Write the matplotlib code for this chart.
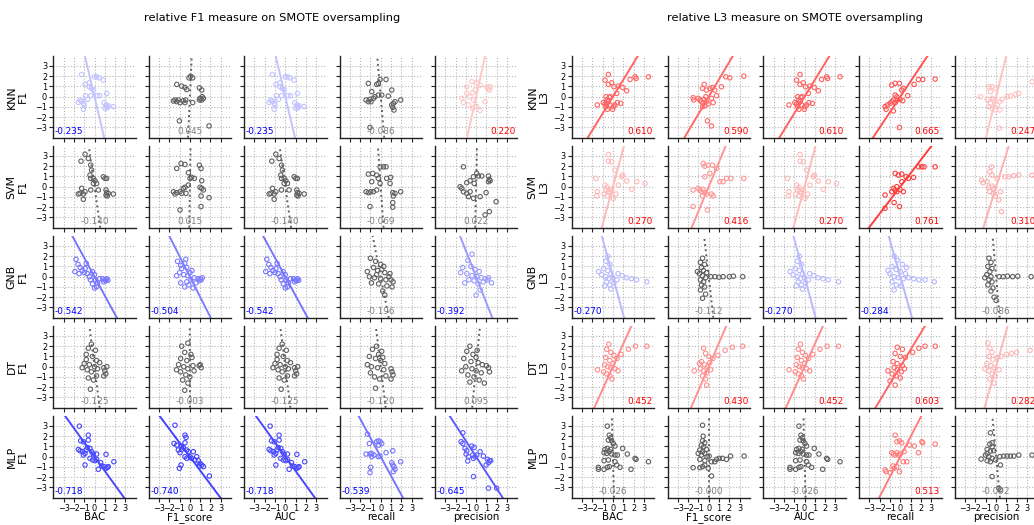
import numpy as np
import matplotlib.pyplot as plt
from matplotlib.colors import to_rgb

W, H = 1034, 525

metrics = ["BAC", "F1_score", "AUC", "recall", "precision"]
classifiers = ["KNN", "SVM", "GNB", "DT", "MLP"]

# correlation shown in every panel (rows = classifiers, cols = metrics)
f1_corr = [[-0.235, 0.045, -0.235, -0.086, 0.220],
           [-0.140, 0.015, -0.140, -0.069, 0.022],
           [-0.542, -0.504, -0.542, -0.196, -0.392],
           [-0.125, -0.003, -0.125, -0.120, 0.095],
           [-0.718, -0.740, -0.718, -0.539, -0.645]]
l3_corr = [[0.610, 0.590, 0.610, 0.665, 0.247],
           [0.270, 0.416, 0.270, 0.761, 0.310],
           [-0.270, -0.112, -0.270, -0.284, -0.086],
           [0.452, 0.430, 0.452, 0.603, 0.282],
           [-0.026, -0.000, -0.026, 0.513, -0.092]]

# ---- F1 panels (x, y) ----
f1_knn_bac = [(-1.25, 2.17), (-0.92, 1.2), (-0.5, 1.36), (0, 1.94), (0.2, 1.94), (0.44, 1.84), (0.86, 1.62),
              (-0.5, 0.97), (-0.28, 0.8), (-0.1, 0.65), (-0.86, 0.1), (-0.37, 0.1), (0.28, 0.1), (0.53, 0.1),
              (1.18, 0.32), (-1.4, -0.32), (-1.57, -0.55), (-1.25, -0.42), (-1.08, -0.65), (-1.0, -0.8),
              (-1.08, -1.23), (0.92, -0.58), (1.12, -0.8), (1.18, -0.97), (1.34, -0.9), (1.24, -1.07),
              (1.83, -0.97), (1.02, -1.13), (-0.66, -0.26)]
f1_knn_f1 = [(-1.28, 1.2), (-0.8, 1.03), (-0.48, 0.9), (-0.31, 0.7), (-0.09, 1.84), (0.07, 2.0), (0.27, 1.84),
             (-1.45, -0.32), (-1.6, -0.42), (-1.28, -0.48), (-1.12, -0.32), (-0.96, -0.58), (-0.64, -0.39),
             (-0.48, -0.58), (-0.41, -0.32), (0.27, -0.58), (0.92, 0.87), (1.15, 0.65), (0.98, -0.16),
             (1.15, -0.32), (1.31, -0.16), (1.2, 0), (0.92, -0.32), (-1.02, -2.36), (1.86, -2.85)]
f1_knn_rec = [(-1.2, 1.3), (-0.39, 1.2), (-0.23, 1.3), (-0.06, 1.68), (0.52, 1.68), (-0.87, 0.49), (-0.23, 0.16),
              (0.1, 0.16), (0.74, 0.06), (1.07, 0.65), (-1.42, -0.32), (-1.2, -0.49), (-1.04, -0.26),
              (-0.94, -0.49), (-0.71, -0.16), (-0.55, 0), (1.23, -0.65), (1.39, -0.49), (1.17, -1.04),
              (1.29, -1.3), (1.94, -0.32), (-1.04, -3.0), (1.07, -0.81)]
f1_knn_prec = [(-0.91, 0.97), (-0.42, 1.46), (0.06, 1.36), (0.39, 1.13), (-0.1, 0.65), (-0.32, 0.39),
               (-0.91, 0.32), (-1.39, -0.16), (-1.23, -0.58), (-0.74, -0.81), (-0.32, -1.13), (0.06, -0.97),
               (0.39, -1.36), (0.87, -0.49), (1.04, 0.97), (1.2, 0.81), (1.36, 0.97), (1.29, 0.65),
               (-0.26, -0.32), (-0.58, 0)]

f1_svm_bac = [(-1.31, 2.49), (-0.92, 3.17), (-0.6, 2.75), (-0.37, 2.1), (-0.28, 1.62), (-0.44, 1.13),
              (-0.37, 0.81), (-0.11, 0.81), (0.05, 0.58), (0.21, 0.32), (-0.11, 0.32), (-1.25, -0.16),
              (-1.4, -0.65), (-1.57, -0.71), (-1.08, -0.71), (-0.92, -0.49), (-1.08, -1.23), (-0.37, -0.32),
              (0.37, -0.32), (0.86, 0.97), (1.02, 0.81), (1.18, 0.81), (1.12, -0.32), (1.18, -0.58),
              (1.12, -0.81), (1.34, -0.65), (1.83, -0.71), (1.24, -0.9)]
f1_svm_f1 = [(-1.28, 1.78), (-0.86, 2.27), (-0.48, 2.17), (-0.15, 1.36), (0.01, 0.81), (0.17, 0.91),
             (0.43, 0.81), (-1.6, -0.49), (-1.45, -0.71), (-1.28, -0.58), (-0.96, -0.49), (-0.8, -0.65),
             (-0.64, -0.16), (-0.48, -0.06), (-0.38, -0.65), (-0.15, 0.16), (0.92, 2.1), (1.08, 1.78),
             (1.15, 0.58), (0.98, -0.06), (1.15, -0.16), (1.31, -0.32), (1.08, -0.9), (1.86, -1.07),
             (1.08, -1.94), (-0.96, -2.27)]
f1_svm_rec = [(-1.2, 1.23), (-0.78, 1.3), (-0.06, 1.94), (0.26, 1.94), (0.52, 1.94), (-0.39, 1.13),
              (-0.23, 0.81), (-0.87, 0.49), (-0.06, 0.32), (0.58, 0.81), (0.97, 0.91), (0.91, 0.32),
              (-1.42, -0.49), (-1.2, -0.58), (-0.97, -0.49), (-0.71, -0.49), (-0.39, -0.32), (1.17, -0.58),
              (1.39, -0.65), (1.23, -0.9), (1.94, -0.49), (-1.04, -1.94), (1.17, -1.55), (1.17, -2.0)]
f1_svm_prec = [(-1.23, 1.94), (-0.26, 0.97), (0.06, 1.3), (0.23, 1.04), (0.55, 1.04), (1.2, 1.04),
               (1.29, 0.71), (1.2, 0.49), (1.36, 0.58), (-0.91, 0.39), (-0.58, 0.58), (-0.19, 0.32),
               (-1.55, 0), (-1.39, -0.16), (-1.23, -0.49), (-0.91, -0.65), (-0.74, -0.97), (-0.58, -0.49),
               (-0.26, -1.13), (0.39, -0.97), (0.97, -0.58), (1.94, -1.46), (1.29, -2.43), (0.87, -2.75)]

f1_gnb_bac = [(-1.8, 1.7), (-1.6, 1.2), (-1.4, 0.9), (-1.2, 0.6), (-1.0, 0.4), (-0.9, 0.8), (-0.7, 0.3),
              (-0.5, 0.0), (-0.4, -0.3), (-0.2, 0.5), (0.0, 0.2), (0.1, -0.3), (0.3, -0.6), (0.5, -0.2),
              (0.8, -0.2), (1.0, -0.3), (1.1, -0.4), (1.2, -0.2), (1.3, -0.35), (0.9, -0.5), (-1.9, 0.5),
              (-0.8, 1.3), (0.2, -1.0), (-1.5, 0.3), (-0.2, -0.7), (0.0, -1.1)]
f1_gnb_f1 = [(-1.2, 1.5), (-0.9, 1.1), (-0.5, 1.3), (-0.8, 0.8), (-0.3, 0.9), (-1.0, 0.4), (-0.6, 0.2),
             (-0.2, 0.1), (0.0, 0.4), (0.1, -0.3), (-0.3, -0.5), (-0.9, -0.6), (0.4, -0.1), (0.8, -0.2),
             (1.0, -0.2), (1.1, -0.3), (1.2, -0.1), (0.9, -0.4), (-0.5, -1.0), (0.3, -1.1), (-1.3, 0.1),
             (-0.4, 1.7), (0.2, 0.6), (-0.1, -0.8), (0.6, -0.6)]
f1_gnb_rec = [(-1.0, 1.8), (-0.5, 1.5), (0.0, 1.2), (0.3, 1.0), (-0.7, 0.9), (-1.3, 0.5), (-0.3, 0.6),
              (0.4, 0.4), (0.9, 0.3), (-1.1, 0.0), (-0.6, -0.1), (0.0, -0.2), (0.5, -0.3), (1.0, -0.3),
              (1.2, -0.5), (-0.9, -0.6), (-0.2, -0.7), (0.6, -0.9), (1.1, -1.0), (0.2, -1.4), (0.4, -1.8),
              (-0.4, 0.2), (0.8, 0.0), (0.1, 0.7)]
f1_gnb_prec = [(-0.4, 2.2), (-0.8, 1.6), (-1.3, 0.9), (-0.5, 1.0), (-0.1, 0.7), (0.3, 0.5), (-0.9, 0.3),
               (-0.4, 0.1), (0.1, 0.0), (0.5, -0.1), (0.9, -0.2), (1.2, -0.1), (1.1, -0.3), (-0.2, -0.4),
               (0.2, -0.7), (-0.7, -0.3), (0.7, -0.5), (-1.1, -0.6), (0.4, -1.3), (0.0, -1.8), (1.5, -0.6),
               (-1.5, 0.4)]

f1_dt_bac = [(-0.6, 1.8), (-0.3, 2.2), (0.1, 1.6), (-0.8, 1.2), (-0.2, 1.0), (0.2, 0.6), (-1.0, 0.3),
             (-0.5, 0.2), (0.0, 0.0), (-1.2, -0.1), (-0.7, -0.3), (-0.3, -0.5), (0.3, -0.2), (0.9, -0.1),
             (1.0, -0.4), (1.1, -0.7), (0.9, -0.9), (-0.6, -1.1), (-0.1, -1.3), (0.2, -0.9), (-0.4, -2.2),
             (-0.8, 0.7), (0.5, 0.4), (1.2, 0.0)]
f1_dt_f1 = [(-0.8, 2.0), (-0.2, 2.3), (-0.5, 1.4), (0.1, 1.2), (-0.9, 0.8), (-0.3, 0.6), (-1.1, 0.2),
            (-0.6, 0.0), (-0.2, -0.2), (0.3, 0.1), (0.9, 0.1), (1.1, -0.1), (1.0, 0.2), (-0.9, -0.5),
            (-0.4, -0.8), (0.0, -1.0), (-0.7, -1.3), (-0.2, -1.6), (-0.5, -2.3), (0.4, -0.4), (-1.3, -0.3),
            (0.2, 0.9)]
f1_dt_rec = [(-0.8, 1.7), (-0.4, 2.0), (0.1, 1.5), (-1.1, 1.0), (-0.5, 0.8), (0.0, 0.6), (0.4, 0.3),
             (-1.3, 0.2), (-0.9, 0.0), (-0.3, -0.1), (0.3, -0.3), (1.0, -0.2), (1.1, -0.5), (1.2, -0.8),
             (-1.0, -0.6), (-0.6, -1.0), (-0.1, -1.2), (0.5, -0.9), (1.0, -1.2), (-0.5, -2.1), (0.2, 0.9),
             (-0.2, 1.2)]
f1_dt_prec = [(-0.6, 2.0), (-0.9, 1.5), (-0.3, 1.2), (0.1, 1.6), (-1.2, 0.8), (-0.5, 0.5), (0.2, 0.4),
              (0.6, 0.2), (1.0, 0.1), (1.2, -0.1), (-1.0, 0.0), (-0.4, -0.2), (0.0, -0.4), (0.5, -0.6),
              (-0.8, -0.8), (-0.2, -1.0), (0.3, -1.3), (-0.6, -1.5), (1.3, -0.5), (-1.4, -0.4), (0.8, -1.6),
              (0.0, 0.9)]

f1_mlp_bac = [(-1.47, 2.98), (-1.34, 1.55), (-1.08, 1.45), (-0.6, 2.1), (-0.6, 1.62), (-1.57, 0.71),
              (-1.4, 0.58), (-1.15, 0.49), (-0.92, 0.32), (-1.08, 0.16), (-0.82, 0.65), (-0.69, 0.9),
              (-0.44, 0.81), (-0.28, 0.49), (-0.11, 0.26), (0.21, 0.26), (-0.44, -0.16), (-0.18, -0.32),
              (0.05, -0.39), (0.21, -0.26), (-0.92, -0.81), (0.37, -1.23), (0.7, -0.9), (1.12, 0.23),
              (0.92, -0.97), (1.12, -1.13), (1.24, -1.04), (1.34, -0.97), (1.88, -0.49), (0.6, -0.58)]
f1_mlp_f1 = [(-1.45, 3.07), (-1.54, 1.29), (-1.28, 1.13), (-0.8, 1.04), (-0.48, 2.1), (-0.38, 1.88),
             (-0.48, 1.36), (-1.12, 0.65), (-0.96, 0.39), (-0.8, 0.71), (-0.64, 0.9), (-0.31, 0.65),
             (-0.15, 0.49), (-0.48, 0), (-0.31, -0.16), (0.01, 0), (0.17, -0.16), (0.33, 0.49), (0.66, 0),
             (0.82, -0.39), (0.98, -0.65), (1.15, -0.81), (1.31, -0.97), (0.92, -0.9), (1.89, -1.88),
             (-0.86, -0.81), (-1.02, -1.13), (0.49, -0.32)]
f1_mlp_rec = [(-1.29, 2.2), (-1.1, 1.29), (-0.39, 1.46), (-0.23, 1.55), (-0.06, 1.46), (0.1, 1.29),
              (-0.19, 1.13), (0.52, 0.39), (1.17, 0.58), (-1.42, 0.26), (-1.04, 0.26), (-0.87, 0),
              (-0.65, 0.16), (-0.87, 0.32), (-0.23, 0), (-0.06, 0.06), (-0.97, -1.04), (-1.04, -1.55),
              (1.07, -0.58), (1.17, -0.81), (1.29, -0.97), (1.39, -1.23), (1.23, -1.46), (1.94, -0.49)]
f1_mlp_prec = [(-1.29, 2.33), (-1.46, 1.46), (-1.29, 1.29), (-1.07, 0.81), (-0.91, 0.58), (-0.42, 1.04),
               (-0.19, 0.9), (0.39, 0.49), (-0.97, 0.26), (-0.74, 0), (-0.32, 0.16), (-0.1, 0), (0.06, 0.16),
               (-0.26, -0.16), (-0.81, -0.42), (0.71, 0.06), (1.1, -0.26), (1.29, -0.39), (1.2, -0.58),
               (1.42, -0.39), (0.97, -0.81), (-0.26, -1.94), (1.2, -3.07), (2.0, -3.07)]

# ---- L3 panels (x, y) ----
l3_knn_bac = [(-0.44, 2.17), (-0.77, 1.62), (-0.44, 1.2), (-0.12, 1.36), (0.1, 0.97), (0.53, 1.04),
              (0.95, 0.9), (1.34, 0.58), (1.66, 1.68), (2.15, 1.94), (2.25, 1.78), (3.45, 1.94), (0.37, 0.32),
              (-0.67, 0), (-0.35, -0.06), (-0.22, 0), (-0.93, -0.58), (-0.77, -0.71), (-0.6, -0.65),
              (-0.44, -0.49), (-0.67, -0.97), (-0.54, -1.23), (-0.28, -0.81), (0.04, -0.97), (0.2, -0.81),
              (0.43, -0.58), (0.76, -0.65), (-1.51, -0.81), (-0.02, -1.23), (-0.54, -0.32)]
l3_knn_f1 = [(-0.44, 1.2), (-0.6, 0.81), (-0.22, 0.65), (0.11, 0.81), (0.37, 0.9), (0.59, 0.65), (1.24, 0.97),
             (1.66, 1.94), (2.05, 1.84), (3.41, 2.0), (-1.51, -0.1), (-1.45, -0.32), (-1.02, -0.16),
             (-0.86, -0.32), (-0.7, -0.49), (-0.54, -0.65), (-0.44, -0.26), (-0.28, 0), (-0.22, -0.49),
             (-0.05, -0.71), (-0.6, -0.97), (-0.38, -0.9), (0.27, -0.16), (0.43, -0.58), (-0.12, -2.36),
             (0.27, -2.85), (0.76, 0.1)]
l3_knn_rec = [(-0.83, 1.13), (-0.5, 1.3), (-0.08, 1.3), (0.14, 0.65), (0.3, 0.81), (1.34, 1.2), (1.76, 1.68),
              (2.18, 1.68), (3.38, 1.72), (-0.5, 0.16), (-0.34, 0), (-0.67, -0.32), (-0.83, -0.49),
              (-0.5, -0.58), (-0.28, -0.32), (-0.02, -0.26), (-1.48, -0.97), (-1.38, -1.23), (-1.25, -0.81),
              (-0.67, -1.39), (0.24, -0.39), (0.72, 0.1), (-0.08, -3.0), (-0.99, -0.65)]
l3_knn_prec = [(-1.52, 0), (-0.71, 0.97), (-0.39, 0.97), (-0.06, 0.81), (-0.55, 0.49), (-0.39, -0.16),
               (-0.23, -0.32), (-0.55, -0.65), (-0.71, -0.97), (-0.39, -1.13), (-0.06, -1.29), (0.36, -1.29),
               (0.1, -0.81), (0.36, -0.49), (0.58, -0.26), (1.07, 0), (1.39, 0.06), (1.88, 0.23), (2.2, 0.32),
               (3.49, 1.46), (0.32, -3.07), (-0.87, -0.26)]

l3_svm_bac = [(-0.44, 3.14), (-0.44, 2.49), (-0.12, 2.43), (0.2, 1.62), (0.85, 0.97), (0.95, 1.13),
              (-1.64, 0.81), (1.34, 0.55), (2.31, 0.49), (3.12, 0.32), (1.83, -0.26), (-0.77, 0.16),
              (-0.54, -0.06), (-0.67, -0.32), (-0.44, -0.49), (-0.28, -0.65), (-0.12, -0.32), (-0.86, -0.71),
              (-0.54, -0.9), (0.04, -1.13), (0.3, -0.71), (-1.51, -0.49), (-1.57, -0.9), (0.53, 0.16)]
l3_svm_f1 = [(-0.54, 2.27), (-0.38, 2.0), (-0.05, 2.1), (0.37, 2.1), (0.76, 1.78), (0.11, 1.3), (-0.38, 0.97),
             (1.08, 0.49), (1.4, 0.49), (1.73, 0.81), (2.15, 0.81), (3.41, 0.81), (-1.51, -0.32),
             (-1.02, -0.16), (-0.86, -0.32), (-0.7, -0.49), (-0.54, -0.26), (-0.38, -0.58), (-0.22, -0.71),
             (-0.6, -0.9), (0.27, -0.71), (-1.51, -1.94), (-0.12, -2.27), (0.43, -0.9)]
l3_svm_rec = [(-0.5, 1.3), (-0.18, 1.13), (0.14, 1.23), (0.56, 0.97), (0.79, 0.81), (1.28, 0.91), (1.76, 1.94),
              (2.09, 1.94), (2.31, 1.94), (3.38, 1.94), (0.14, 0.49), (-0.34, 0), (-0.67, -0.16), (-0.5, -0.32),
              (-0.83, -0.49), (-0.34, -0.49), (-0.02, -0.26), (0.3, -0.49), (-1.48, -0.81), (-0.6, -1.55),
              (-0.08, -1.94), (-1.48, -2.1)]
l3_svm_prec = [(-0.45, 1.94), (-0.61, 1.46), (-0.39, 1.13), (-1.42, 0.65), (-1.26, 0.39), (-0.87, 0.49),
               (0.1, 0.81), (-0.39, 0.06), (-0.71, -0.06), (-0.23, -0.16), (-0.61, -0.49), (-0.29, -0.65),
               (-0.06, -0.9), (0.26, -1.29), (0.42, -0.49), (0.84, 0.97), (1.23, 0.97), (1.72, 1.07),
               (2.2, 1.13), (3.49, 1.13), (0.52, -2.43)]

l3_gnb_bac = [(-0.5, 2.0), (-0.7, 1.5), (-0.3, 1.2), (-0.9, 0.8), (-0.5, 0.6), (-0.2, 0.3), (-1.1, 0.2),
              (-0.7, 0.0), (-0.4, -0.2), (0.0, -0.1), (-0.6, -0.5), (-0.3, -0.8), (0.1, -0.6), (0.5, 0.3),
              (0.9, 0.1), (1.3, -0.1), (1.8, -0.2), (2.3, -0.3), (3.3, -0.5), (-1.4, 0.5), (-0.2, -1.2),
              (0.4, -0.3), (-0.8, -0.9)]
l3_gnb_f1 = [(-0.6, 1.8), (-0.8, 1.4), (-0.4, 1.2), (-0.7, 0.9), (-0.5, 0.6), (-0.9, 0.3), (-0.6, 0.1),
             (-0.3, -0.1), (-0.8, -0.3), (-0.5, -0.5), (-0.7, -0.8), (-0.4, -1.0), (-0.8, -1.3), (-0.3, -1.7),
             (-0.6, -2.1), (0.2, 0.0), (0.6, 0.0), (1.0, -0.05), (1.4, 0.0), (2.0, 0.0), (2.4, 0.05),
             (3.3, 0.0), (-1.1, 0.5), (-0.2, 0.4)]
l3_gnb_rec = [(-0.6, 2.0), (-0.3, 1.6), (0.2, 1.2), (-0.8, 1.0), (-0.4, 0.7), (0.0, 0.5), (0.5, 0.3),
              (-1.0, 0.3), (-0.6, 0.0), (-0.2, -0.1), (0.3, -0.2), (0.8, -0.1), (1.3, -0.2), (1.8, -0.3),
              (2.4, -0.3), (3.3, -0.5), (-0.8, -0.5), (-0.4, -0.8), (0.1, -0.9), (-0.6, -1.3), (0.6, 0.9),
              (-1.2, 0.6)]
l3_gnb_prec = [(-0.7, 1.8), (-0.5, 1.4), (-0.8, 1.0), (-0.4, 0.8), (-0.6, 0.5), (-0.9, 0.2), (-0.5, 0.0),
               (-0.7, -0.3), (-0.4, -0.5), (-0.8, -0.8), (-0.3, -1.1), (-0.5, -1.4), (-0.2, -2.0),
               (0.0, -2.3), (0.3, 0.0), (0.7, 0.0), (1.1, 0.05), (1.6, 0.0), (2.1, 0.05), (3.4, 0.0),
               (-1.1, -0.1)]

l3_dt_bac = [(-0.4, 2.2), (-0.6, 1.7), (-0.2, 1.4), (0.1, 1.1), (-0.7, 0.9), (-0.3, 0.6), (0.4, 0.8),
             (0.8, 1.2), (1.5, 1.7), (2.2, 2.0), (3.3, 2.0), (-0.8, 0.2), (-0.5, 0.0), (-0.2, -0.1),
             (0.2, -0.2), (-0.9, -0.5), (-0.6, -0.7), (-0.3, -0.9), (-0.1, -1.2), (0.5, -0.4), (-1.5, -0.3),
             (0.0, 0.3)]
l3_dt_f1 = [(-0.5, 1.8), (-0.3, 1.3), (0.0, 1.0), (0.4, 0.8), (0.9, 1.1), (1.6, 1.6), (2.3, 1.9), (3.3, 2.0),
            (-0.7, 0.5), (-0.4, 0.2), (-0.1, 0.0), (-0.8, -0.2), (-0.5, -0.4), (-0.2, -0.6), (0.2, -0.3),
            (-0.6, -0.9), (-0.3, -1.2), (-1.4, -0.4), (-0.9, 0.3), (0.1, 0.4), (-0.2, -1.8)]
l3_dt_rec = [(-0.3, 1.9), (0.2, 1.7), (-0.5, 1.3), (0.0, 1.0), (0.5, 0.9), (1.2, 1.4), (1.8, 1.8), (2.4, 2.0),
             (3.4, 2.0), (-0.7, 0.5), (-0.3, 0.3), (0.2, 0.1), (-0.6, -0.1), (-0.3, -0.3), (0.1, -0.5),
             (-0.8, -0.7), (-0.4, -0.9), (0.0, -1.1), (-1.0, -1.4), (-0.5, -1.8), (0.4, -0.2), (-1.2, -0.4)]
l3_dt_prec = [(-0.8, 2.3), (-0.6, 1.8), (-0.4, 1.4), (-0.7, 1.0), (-0.3, 0.7), (0.1, 0.9), (0.5, 1.0),
              (1.0, 1.2), (1.5, 1.3), (2.0, 1.4), (3.3, 1.6), (-0.9, 0.3), (-0.5, 0.1), (-0.2, -0.1),
              (-0.7, -0.4), (-0.4, -0.7), (-0.1, -0.9), (-0.6, -1.2), (-0.2, -1.6), (-1.1, -0.2), (0.3, -0.3)]

l3_mlp_bac = [(-0.54, 2.98), (-0.35, 2.1), (-0.22, 1.84), (-0.44, 1.62), (-0.12, 1.55), (0.04, 1.29),
              (0.2, 1.04), (-0.77, 0.71), (-0.54, 0.81), (-0.22, 0.71), (-0.86, 0.39), (-0.6, 0.32),
              (-0.35, 0.49), (-0.12, 0.26), (0.2, 0.16), (0.43, 0.16), (0.95, 0.81), (1.4, 0.26),
              (-0.86, -0.39), (-0.44, -0.32), (0.2, -0.49), (0.37, -0.81), (0.69, -1.04), (-1.41, -1.04),
              (-1.41, -1.23), (-0.86, -1.23), (-0.54, -1.04), (-0.35, -0.97), (1.76, -1.23), (2.15, -0.16),
              (2.25, -0.26), (3.45, -0.49)]
l3_mlp_f1 = [(-0.6, 3.07), (-0.54, 2.0), (-0.6, 1.55), (-0.38, 1.36), (-0.7, 1.13), (-0.48, 0.97),
             (-0.22, 0.71), (-0.86, 0.65), (-0.6, 0.49), (-1.02, 0.32), (-0.7, 0.16), (-0.38, 0.32),
             (-0.15, 0), (0.04, 0.06), (-0.86, -0.26), (-0.38, -0.39), (0.27, -0.49), (0.59, -0.49),
             (0.76, -0.26), (1.02, -0.16), (1.34, -0.16), (1.73, -0.26), (2.12, 0.06), (3.44, 0.06),
             (-1.51, -1.07), (-0.86, -1.07), (-0.6, -0.97), (-0.38, -0.81), (-0.05, -1.13), (0.27, -1.88)]
l3_mlp_rec = [(-0.5, 2.1), (-0.34, 1.46), (-0.08, 1.55), (0.14, 1.36), (0.88, 1.13), (1.37, 1.04),
              (1.76, 0.39), (2.09, 1.46), (2.18, 1.36), (3.38, 1.23), (-0.83, 0.39), (-0.67, 0.26),
              (-0.5, 0.16), (-0.34, 0.39), (-0.18, 0.16), (-0.02, 0.26), (0.37, 0.49), (0.3, -0.49),
              (0.63, -0.49), (-0.72, -0.9), (-0.6, -1.13), (-0.34, -0.97), (-1.48, -1.29), (-1.38, -1.46),
              (-0.08, -1.46), (-0.99, -1.55)]
l3_mlp_prec = [(-0.55, 2.33), (-0.39, 1.36), (-0.61, 1.23), (-0.39, 0.97), (-0.87, 0.71), (-0.55, 0.55),
               (-0.23, 0.58), (-0.87, 0.32), (-1.03, 0.16), (-1.45, -0.23), (-0.71, 0), (-0.39, -0.16),
               (-0.87, -0.39), (-0.55, -0.49), (-0.06, -0.32), (0.36, 0), (0.74, 0.06), (1.07, 0.06),
               (1.39, 0.06), (1.72, 0.06), (2.2, 0.16), (3.49, 0.16), (0.42, -0.81), (-0.39, -1.94),
               (0.26, -3.07), (0.42, -3.23)]

# BAC and AUC panels are identical in the reference
f1_panels = [[f1_knn_bac, f1_knn_f1, f1_knn_bac, f1_knn_rec, f1_knn_prec],
             [f1_svm_bac, f1_svm_f1, f1_svm_bac, f1_svm_rec, f1_svm_prec],
             [f1_gnb_bac, f1_gnb_f1, f1_gnb_bac, f1_gnb_rec, f1_gnb_prec],
             [f1_dt_bac, f1_dt_f1, f1_dt_bac, f1_dt_rec, f1_dt_prec],
             [f1_mlp_bac, f1_mlp_f1, f1_mlp_bac, f1_mlp_rec, f1_mlp_prec]]
l3_panels = [[l3_knn_bac, l3_knn_f1, l3_knn_bac, l3_knn_rec, l3_knn_prec],
             [l3_svm_bac, l3_svm_f1, l3_svm_bac, l3_svm_rec, l3_svm_prec],
             [l3_gnb_bac, l3_gnb_f1, l3_gnb_bac, l3_gnb_rec, l3_gnb_prec],
             [l3_dt_bac, l3_dt_f1, l3_dt_bac, l3_dt_rec, l3_dt_prec],
             [l3_mlp_bac, l3_mlp_f1, l3_mlp_bac, l3_mlp_rec, l3_mlp_prec]]


def mix(base, a):
    b = np.array(to_rgb(base))
    return tuple(1 - a * (1 - b))


def draw_panel(ax, pts, r):
    xs = [p[0] for p in pts]
    ys = [p[1] for p in pts]
    if abs(r) < 0.2:
        col, ls, tcol = '#606060', ':', 'gray'
    else:
        base = 'blue' if r < 0 else 'red'
        col, ls, tcol = mix(base, abs(r)), '-', base
    yy = np.array([-5.0, 5.0])
    ax.plot(r * yy, yy, color=col, ls=ls, lw=1.4, zorder=2)
    ax.scatter(xs, ys, s=10, facecolors='none', edgecolors=[col], linewidths=0.8, zorder=3)
    if abs(r) < 0.2:
        tx, ha = 0.5, 'center'
    elif r < 0:
        tx, ha = 0.02, 'left'
    else:
        tx, ha = 0.98, 'right'
    ax.text(tx, 0.025, f"{r:.3f}", transform=ax.transAxes, ha=ha, va='bottom', color=tcol, fontsize=6.4)


fig = plt.figure(figsize=(W / 100, H / 100), dpi=100)

pw, ph = 82.4, 82.0
group_lefts = [[53.3, 148.7, 244.1, 339.5, 434.9], [571.7, 667.5, 763.3, 859.1, 954.9]]
tops = [55.7 + 90 * i for i in range(5)]
groups = [("F1", f1_panels, f1_corr, 17, 272), ("L3", l3_panels, l3_corr, 538, 795)]
tick_txt = [str(v) if v >= 0 else "\u2212" + str(-v) for v in range(-3, 4)]

for g, (meas, panels, corr, lab_x, title_x) in enumerate(groups):
    fig.text(title_x / W, 1 - 18 / H, f"relative {meas} measure on SMOTE oversampling",
             ha='center', va='center', fontsize=8.2)
    for i, clf in enumerate(classifiers):
        fig.text(lab_x / W, 1 - (tops[i] + ph / 2) / H, f"{clf}\n{meas}", rotation=90,
                 ha='center', va='center', fontsize=7.8, multialignment='center', linespacing=1.1)
        for j, met in enumerate(metrics):
            L = group_lefts[g][j]
            ax = fig.add_axes([L / W, 1 - (tops[i] + ph) / H, pw / W, ph / H])
            draw_panel(ax, panels[i][j], corr[i][j])
            ax.set_xlim(-4, 4)
            ax.set_ylim(-4, 4)
            ax.set_xticks(range(-3, 4))
            ax.set_yticks(range(-3, 4))
            ax.set_xticklabels(tick_txt)
            ax.set_yticklabels(tick_txt)
            ax.grid(True, ls=':', lw=0.8, color='#b5b5b5')
            ax.set_axisbelow(True)
            for s in ['top', 'right']:
                ax.spines[s].set_visible(False)
            for s in ['left', 'bottom']:
                ax.spines[s].set_linewidth(1.0)
                ax.spines[s].set_color('#222222')
            ax.tick_params(labelsize=5.9, length=3, width=0.8, pad=1.5, color='#222222')
            if j > 0:
                ax.tick_params(labelleft=False)
            if i < 4:
                ax.tick_params(labelbottom=False)
            else:
                ax.set_xlabel(met, fontsize=7.4, va='top')
                ax.xaxis.set_label_coords(0.5, -0.175)

fig.savefig("out.png", dpi=100)
